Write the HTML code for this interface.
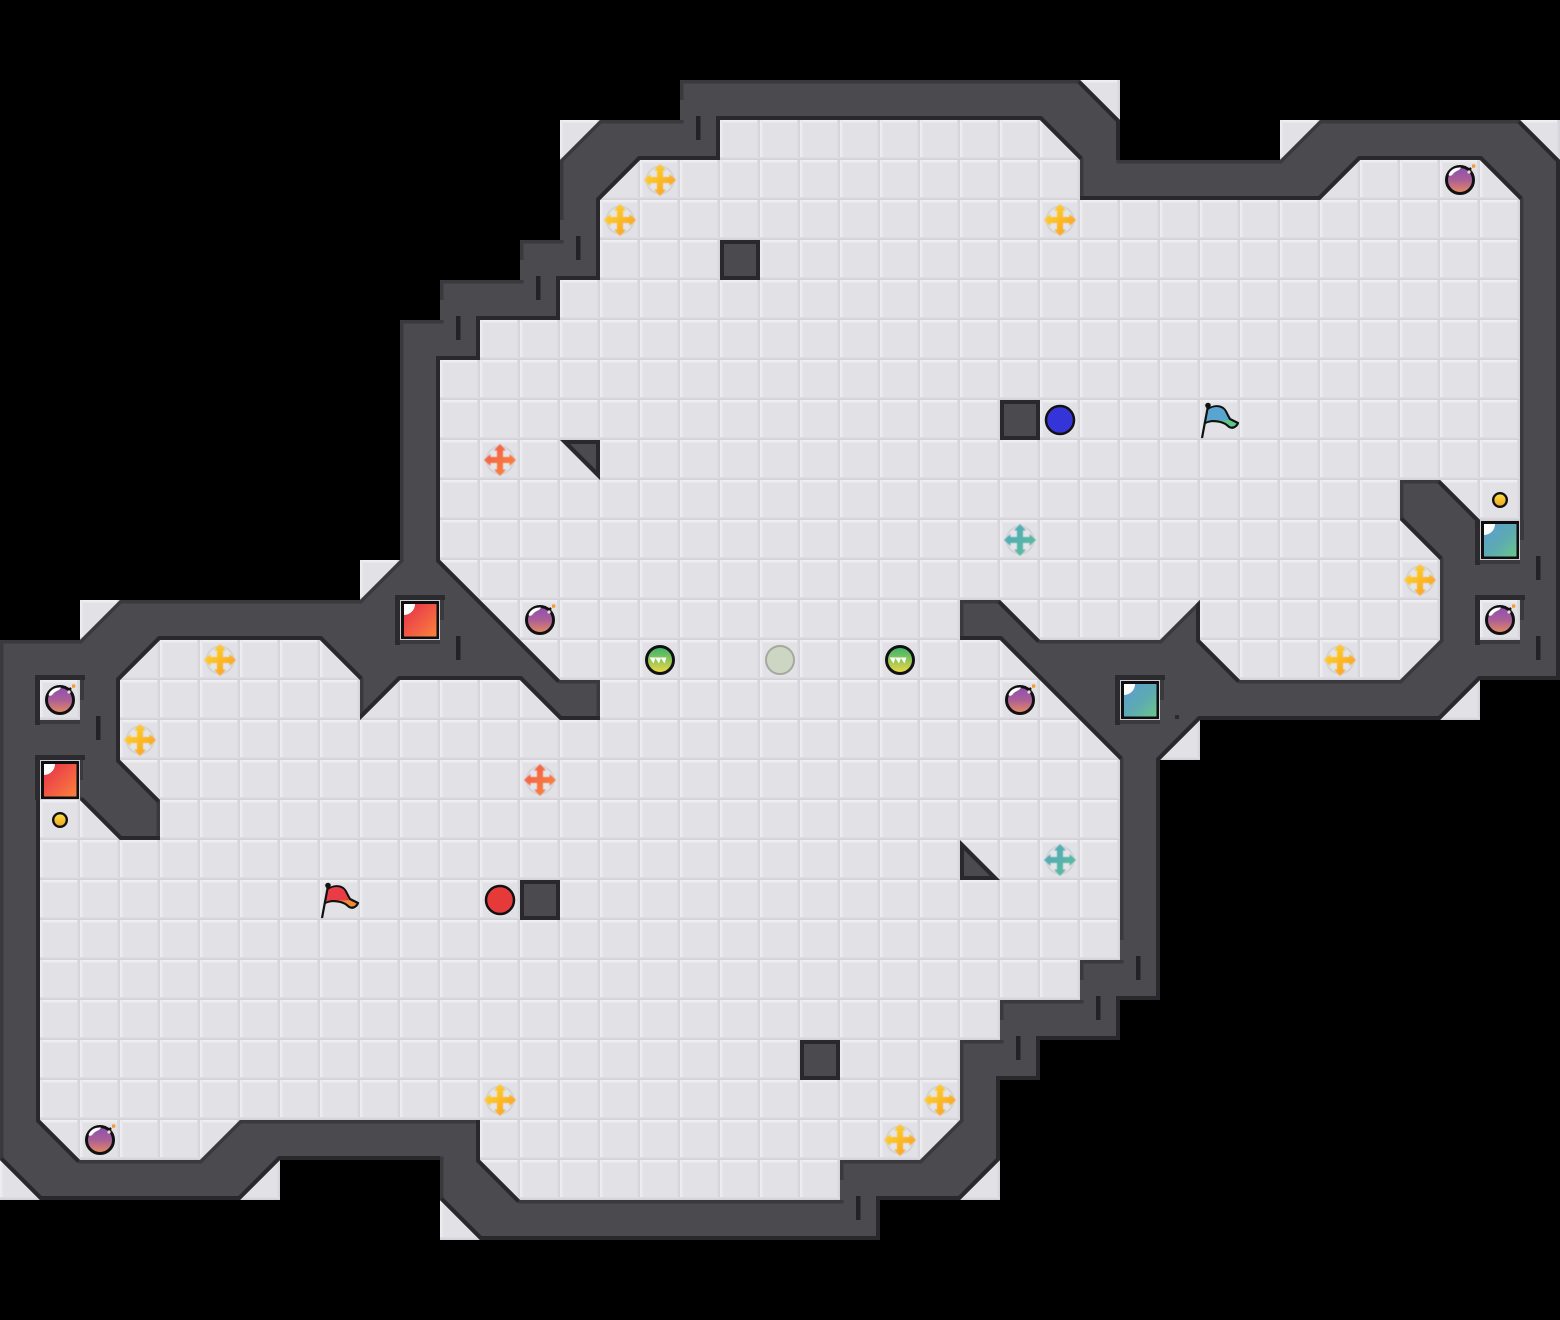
<!DOCTYPE html>
<html><head><meta charset="utf-8"><style>html,body{margin:0;padding:0;background:#000}svg{display:block}</style></head>
<body>
<svg xmlns="http://www.w3.org/2000/svg" width="1560" height="1320" viewBox="0 0 1560 1320">
<defs>
<pattern id="tile" patternUnits="userSpaceOnUse" width="40" height="40">
<rect width="40" height="40" fill="#e2e1e6"/>
<rect width="40" height="3" fill="#e9e8ec"/>
<rect width="40" height="1.500" fill="#f0eff3"/>
<rect width="3" height="40" fill="#e8e7eb"/>
<rect width="1.500" height="40" fill="#eeedf1"/>
<rect x="37" width="3" height="40" fill="#dddce2"/>
<rect x="38.500" width="1.500" height="40" fill="#d5d4da"/>
<rect y="37" width="40" height="3" fill="#dddce2"/>
<rect y="38.500" width="40" height="1.500" fill="#d3d2d9"/>
</pattern>
<clipPath id="wc"><path clip-rule="evenodd" d="M680 80H1080L1120 120V160H1280L1320 120H1520L1560 160V680H1480L1440 720H1200L1160 760V1000H1120V1040H1040V1080H1000V1160L960 1200H880V1240H480L440 1200V1160H280L240 1200H40L0 1160V640H80L120 600H360L400 560V320H440V280H520V240H560V160L600 120H680Z M720 120H1040L1080 160V200H1320L1360 160H1480L1520 200V520H1480L1440 480H1400V520L1440 560V640L1400 680H1240L1200 640V600L1160 640H1040L1000 600H960V640H1000L1120 760V960H1080V1000H1000V1040H960V1120L920 1160H840V1200H520L480 1160V1120H240L200 1160H80L40 1120V800H80L120 840H160V800L120 760V680L160 640H320L360 680V720L400 680H520L560 720H600V680H560L440 560V360H480V320H560V280H600V200L640 160H720Z"/></clipPath>
<filter id="soft" x="-20%" y="-20%" width="140%" height="140%"><feGaussianBlur stdDeviation="0.45"/></filter>
<linearGradient id="gy" x1="0" y1="0" x2="1" y2="1"><stop offset="0" stop-color="#ffdc30"/><stop offset="1" stop-color="#f79a20"/></linearGradient>
<linearGradient id="go" x1="0" y1="0" x2="1" y2="1"><stop offset="0" stop-color="#f0584a"/><stop offset="1" stop-color="#fb8a3c"/></linearGradient>
<linearGradient id="gxt" x1="0" y1="0" x2="1" y2="1"><stop offset="0" stop-color="#52a4c0"/><stop offset="1" stop-color="#5ec098"/></linearGradient>
<linearGradient id="gt" x1="0" y1="0" x2="1" y2="1"><stop offset="0" stop-color="#5a9ed2"/><stop offset=".55" stop-color="#5eaab2"/><stop offset="1" stop-color="#6ac688"/></linearGradient>
<linearGradient id="gr" x1="0" y1="0" x2="1" y2="1"><stop offset="0" stop-color="#e62e4c"/><stop offset="1" stop-color="#fa823c"/></linearGradient>
<linearGradient id="gb" x1="0" y1="0" x2="0" y2="1"><stop offset="0" stop-color="#8a4fb0"/><stop offset=".5" stop-color="#ab5f98"/><stop offset="1" stop-color="#e88c5c"/></linearGradient>
<linearGradient id="gg" x1="0" y1="0" x2="0" y2="1"><stop offset="0" stop-color="#2fb46e"/><stop offset="1" stop-color="#f4d840"/></linearGradient>
<linearGradient id="gc" x1="0" y1="0" x2="0" y2="1"><stop offset="0" stop-color="#ffe048"/><stop offset="1" stop-color="#eda41c"/></linearGradient>
<path id="xp" d="M-3 -9.500L-6 -9.500L0 -16L6 -9.500L3 -9.500L3 -3L9.500 -3L9.500 -6L16 0L9.500 6L9.500 3L3 3L3 9.500L6 9.500L0 16L-6 9.500L-3 9.500L-3 3L-9.500 3L-9.500 6L-16 0L-9.500 -6L-9.500 -3L-3 -3Z"/>
<g id="xy"><circle r="13.500" fill="#e4e4e9" stroke="#d2d2d9" stroke-width="2"/><use href="#xp" fill="url(#gy)" filter="url(#soft)"/></g>
<g id="xo"><circle r="13.500" fill="#e4e4e9" stroke="#d2d2d9" stroke-width="2"/><use href="#xp" fill="url(#go)" filter="url(#soft)"/></g>
<g id="xt"><circle r="13.500" fill="#e4e4e9" stroke="#d2d2d9" stroke-width="2"/><use href="#xp" fill="url(#gxt)" filter="url(#soft)"/></g>
<g id="bomb"><circle r="13.500" fill="url(#gb)" stroke="#111" stroke-width="3"/>
<path d="M-11.500 -5C-10 -10 -5 -13 1 -12.500C0 -9.500 -5 -9 -7 -6C-8 -4.500 -10 -3.500 -11.500 -5Z" fill="#fff"/>
<path d="M8 -9L11 -12" stroke="#111" stroke-width="2.500"/><circle cx="9" cy="-8" r="1.600" fill="#f4d8d8"/>
<rect x="12" y="-15.500" width="3.200" height="3.200" fill="#f59a2c"/></g>
<g id="coin"><circle r="6.800" fill="url(#gc)" stroke="#111" stroke-width="2.400"/></g>
<g id="ball"><circle r="13.500" fill="url(#gg)" stroke="#111" stroke-width="3"/>
<path d="M-10.500 -2.500H-4.500L-6.500 3.500Z M-5 -2.500H1L-1 3.500Z M0.500 -2.500H6.500L4.500 3.500Z" fill="#fff"/></g>
<g id="tr"><rect width="40" height="40" fill="#cfcfd4"/><rect x="1" y="1" width="38" height="38" fill="#0e0d10"/><rect x="4" y="4" width="32.500" height="32.500" fill="url(#gr)"/><path d="M4 4H15A11 11 0 0 1 4 15Z" fill="#fff"/></g>
<g id="tt"><rect width="40" height="40" fill="#cfcfd4"/><rect x="1" y="1" width="38" height="38" fill="#0e0d10"/><rect x="4" y="4" width="32.500" height="32.500" fill="url(#gt)"/><path d="M4 4H15A11 11 0 0 1 4 15Z" fill="#fff"/></g>
<g id="block"><rect width="40" height="40" fill="#29282d"/><rect x="4" y="4" width="32" height="32" fill="#4b4a4f"/></g>
<g id="pole"><path d="M-18 18L-12 -14" stroke="#111" stroke-width="2.200" fill="none"/><circle cx="-12" cy="-14.500" r="2.800" fill="#111"/></g>
</defs>

<path fill="url(#tile)" d="M680 80H1120V160H1280V120H1560V680H1480V720H1200V760H1160V1000H1120V1040H1040V1080H1000V1200H880V1240H440V1160H280V1200H0V640H80V600H360V560H400V320H440V280H520V240H560V120H680Z"/>

<path fill="#4b4a4f" fill-rule="evenodd" d="M680 80H1080L1120 120V160H1280L1320 120H1520L1560 160V680H1480L1440 720H1200L1160 760V1000H1120V1040H1040V1080H1000V1160L960 1200H880V1240H480L440 1200V1160H280L240 1200H40L0 1160V640H80L120 600H360L400 560V320H440V280H520V240H560V160L600 120H680Z M720 120H1040L1080 160V200H1320L1360 160H1480L1520 200V520H1480L1440 480H1400V520L1440 560V640L1400 680H1240L1200 640V600L1160 640H1040L1000 600H960V640H1000L1120 760V960H1080V1000H1000V1040H960V1120L920 1160H840V1200H520L480 1160V1120H240L200 1160H80L40 1120V800H80L120 840H160V800L120 760V680L160 640H320L360 680V720L400 680H520L560 720H600V680H560L440 560V360H480V320H560V280H600V200L640 160H720Z"/>

<g clip-path="url(#wc)" fill="none">
<path stroke="#3a393e" stroke-width="7" d="M680 80H1080L1120 120V160H1280L1320 120H1520L1560 160V680H1480L1440 720H1200L1160 760V1000H1120V1040H1040V1080H1000V1160L960 1200H880V1240H480L440 1200V1160H280L240 1200H40L0 1160V640H80L120 600H360L400 560V320H440V280H520V240H560V160L600 120H680Z M720 120H1040L1080 160V200H1320L1360 160H1480L1520 200V520H1480L1440 480H1400V520L1440 560V640L1400 680H1240L1200 640V600L1160 640H1040L1000 600H960V640H1000L1120 760V960H1080V1000H1000V1040H960V1120L920 1160H840V1200H520L480 1160V1120H240L200 1160H80L40 1120V800H80L120 840H160V800L120 760V680L160 640H320L360 680V720L400 680H520L560 720H600V680H560L440 560V360H480V320H560V280H600V200L640 160H720Z"/>
<path stroke="#29282d" stroke-width="8" d="M1080 80L1120 120V160 M1520 120L1560 160V680H1480L1440 720H1200L1160 760V1000H1120V1040H1040V1080H1000V1160L960 1200H880V1240H480L440 1200 M440 1160H280L240 1200H40L0 1160
M720 160V120H1040L1080 160 M1080 200H1320L1360 160H1480L1520 200 M1480 520L1440 480 M1400 520L1440 560 M1240 680L1200 640V600 M1040 640L1000 600 M960 640H1000L1120 760 M520 1200L480 1160V1120 M80 1160L40 1120V800 M80 800L120 840H160 M160 800L120 760V680L160 640H320L360 680 M360 720L400 680H520L560 720H600 M560 680L440 560V360H480V320H560V280H600V200L640 160H720"/>
</g>

<g fill="#4b4a4f">
<rect x="680" y="100" width="4" height="20"/><rect x="560" y="220" width="4" height="20"/><rect x="520" y="260" width="4" height="20"/><rect x="440" y="300" width="4" height="20"/>
<rect x="1120" y="940" width="4" height="20"/><rect x="1080" y="980" width="4" height="20"/><rect x="1000" y="1020" width="4" height="20"/><rect x="840" y="1180" width="4" height="20"/>
</g>

<g fill="#2b2a2f">
<rect x="35" y="675" width="50" height="5"/><rect x="35" y="675" width="5" height="50"/>
<rect x="35" y="755" width="50" height="5"/><rect x="35" y="755" width="5" height="45"/>
<rect x="395" y="595" width="50" height="5"/><rect x="395" y="595" width="5" height="50"/>
<rect x="1115" y="675" width="50" height="5"/><rect x="1115" y="675" width="5" height="50"/>
<rect x="1475" y="595" width="50" height="5"/><rect x="1475" y="595" width="5" height="50"/>
<rect x="1475" y="520" width="5" height="45"/>
</g>
<g fill="#3a393e">
<rect x="80" y="680" width="4" height="20"/><rect x="40" y="720" width="40" height="4"/>
<rect x="80" y="760" width="3" height="20"/>
<rect x="440" y="600" width="4" height="20"/><rect x="400" y="640" width="40" height="4"/>
<rect x="1160" y="680" width="4" height="20"/><rect x="1120" y="720" width="40" height="4"/>
<rect x="1520" y="600" width="4" height="20"/><rect x="1480" y="640" width="40" height="4"/>
<rect x="1480" y="560" width="40" height="4"/><rect x="1520" y="520" width="4" height="20"/>
</g>
<rect x="1175" y="715" width="4" height="4" fill="#2b2a2f"/>

<g fill="#232227">
<rect x="696" y="116" width="4.500" height="24"/><rect x="576" y="236" width="4.500" height="24"/><rect x="536" y="276" width="4.500" height="24"/><rect x="456" y="316" width="4.500" height="24"/>
<rect x="96" y="716" width="4.500" height="24"/><rect x="456" y="636" width="4.500" height="24"/><rect x="1536" y="556" width="4.500" height="24"/><rect x="1536" y="636" width="4.500" height="24"/>
<rect x="1136" y="956" width="4.500" height="24"/><rect x="1096" y="996" width="4.500" height="24"/><rect x="1016" y="1036" width="4.500" height="24"/><rect x="856" y="1196" width="4.500" height="24"/>
</g>

<rect x="40" y="680" width="40" height="40" fill="url(#tile)"/>
<rect x="1480" y="600" width="40" height="40" fill="url(#tile)"/>

<use href="#tr" x="40" y="760"/><use href="#tr" x="400" y="600"/>
<use href="#tt" x="1120" y="680"/><use href="#tt" x="1480" y="520"/>

<use href="#block" x="720" y="240"/><use href="#block" x="1000" y="400"/><use href="#block" x="520" y="880"/><use href="#block" x="800" y="1040"/>
<path d="M560 440H600V480Z" fill="#29282d"/><path d="M570 444H596V470Z" fill="#4b4a4f"/>
<path d="M960 840V880H1000Z" fill="#29282d"/><path d="M964 850V876H990Z" fill="#4b4a4f"/>

<use href="#xy" x="660" y="180"/><use href="#xy" x="620" y="220"/><use href="#xy" x="1060" y="220"/><use href="#xy" x="220" y="660"/><use href="#xy" x="140" y="740"/><use href="#xy" x="1420" y="580"/><use href="#xy" x="1340" y="660"/><use href="#xy" x="500" y="1100"/><use href="#xy" x="940" y="1100"/><use href="#xy" x="900" y="1140"/>
<use href="#xo" x="500" y="460"/><use href="#xo" x="540" y="780"/>
<use href="#xt" x="1020" y="540"/><use href="#xt" x="1060" y="860"/>

<use href="#bomb" x="1460" y="180"/><use href="#bomb" x="60" y="700"/><use href="#bomb" x="1500" y="620"/><use href="#bomb" x="540" y="620"/><use href="#bomb" x="1020" y="700"/><use href="#bomb" x="100" y="1140"/>

<use href="#coin" x="60" y="820"/><use href="#coin" x="1500" y="500"/>

<use href="#ball" x="660" y="660"/><use href="#ball" x="900" y="660"/>
<circle cx="780" cy="660" r="14" fill="#cdd6c2" stroke="#a4a89e" stroke-width="2"/>
<circle cx="500" cy="900" r="14" fill="#e63a3a" stroke="#111" stroke-width="2.500"/>
<circle cx="1060" cy="420" r="14" fill="#3434d8" stroke="#111" stroke-width="2.500"/>

<g transform="translate(340 900)">
<path d="M-12 -10C-7 -15 1 -15 5 -10C7 -7 8 -4 10 -1L18 3C16 8 11 9 8 6C4 2 -3 1 -7 1C-10 1 -13 2 -15 3Z" fill="#f08a34" stroke="#111" stroke-width="2.200" stroke-linejoin="round"/>
<path d="M-12 -10C-7 -14 0 -14 4 -10C6 -7 7 -3 9 0C5 1 0 0 -7 0C-10 0 -12 1 -14.500 2Z" fill="#e93c46"/>
<use href="#pole"/></g>
<g transform="translate(1220 420)">
<path d="M-12 -10C-7 -15 1 -15 5 -10C7 -7 8 -4 10 -1L18 3C16 8 11 9 8 6C4 2 -3 1 -7 1C-10 1 -13 2 -15 3Z" fill="#5cc888" stroke="#111" stroke-width="2.200" stroke-linejoin="round"/>
<path d="M-12 -10C-7 -14 0 -14 4 -10C6 -7 7 -3 9 0C5 1 0 0 -7 0C-10 0 -12 1 -14.500 2Z" fill="#5aa4d0"/>
<use href="#pole"/></g>
</svg>
</body></html>
